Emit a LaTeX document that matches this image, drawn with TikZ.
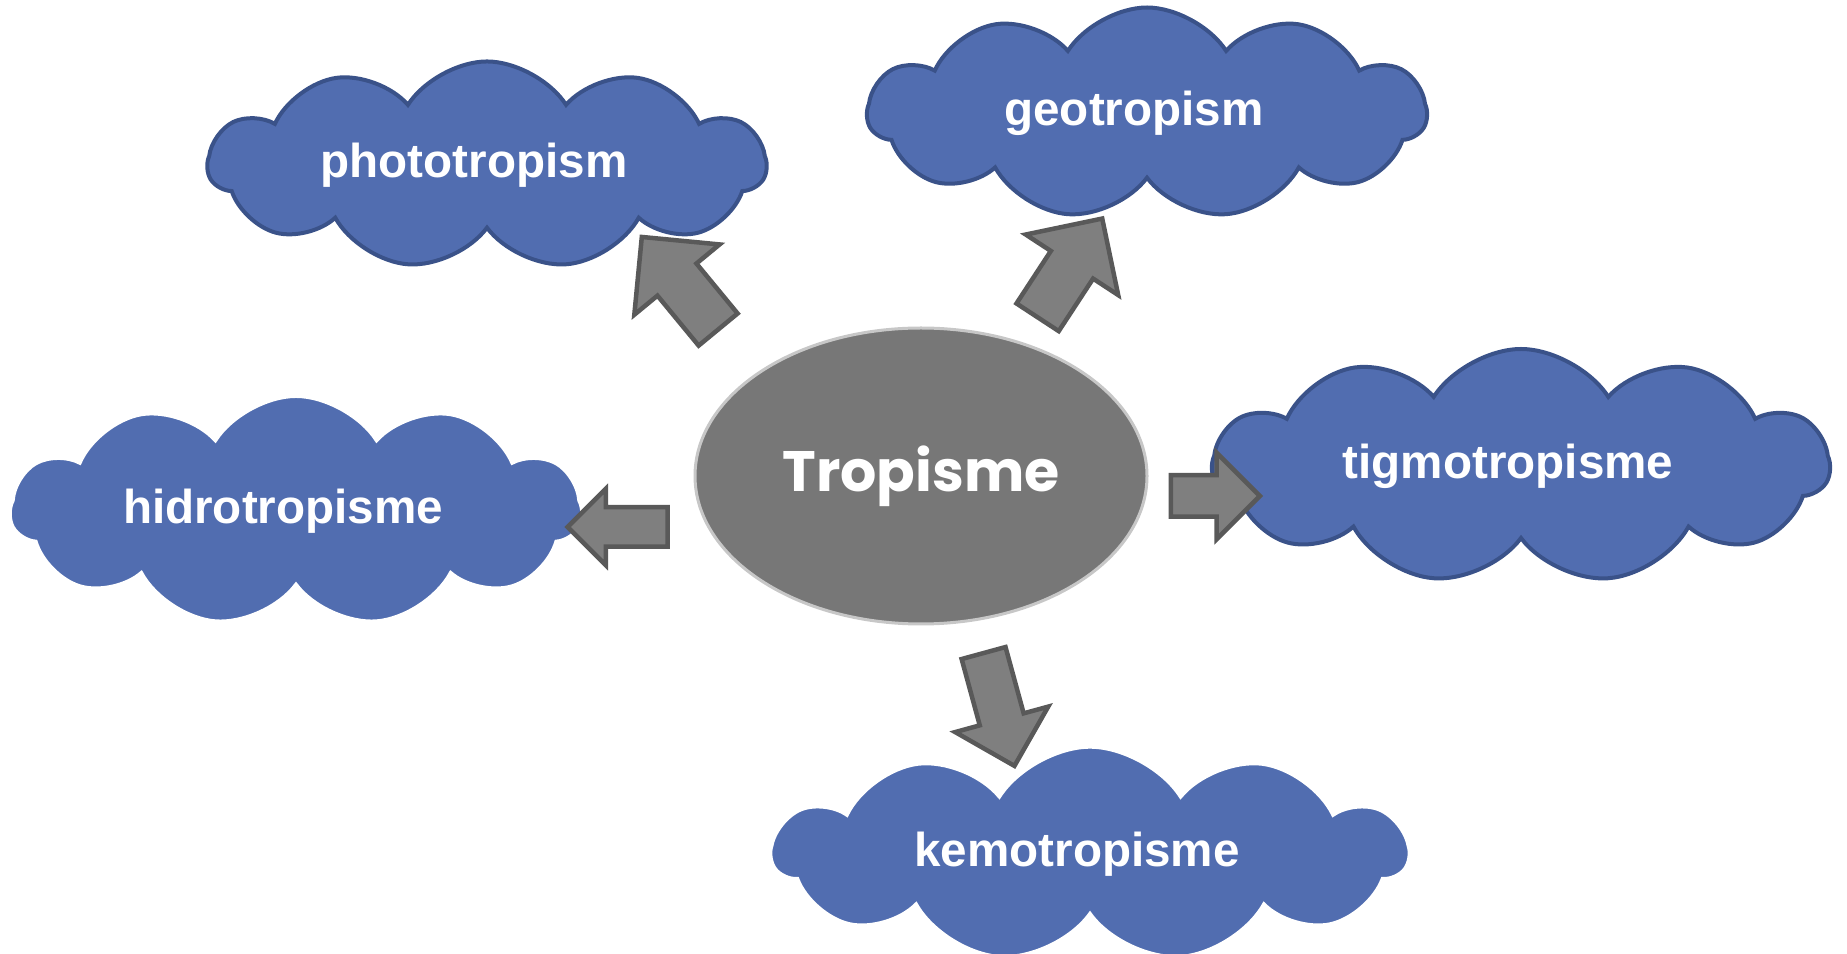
\documentclass[tikz,border=0pt]{standalone}
\usepackage{fontspec}
\setmainfont{Liberation Sans}
\newfontfamily\tropfont{Poppins}
\usetikzlibrary{shapes.symbols,shapes.arrows,shapes.geometric}

\definecolor{cloudblue}{HTML}{516DB0}
\definecolor{cloudline}{HTML}{3A5289}
\definecolor{arrowgray}{HTML}{7F7F7F}
\definecolor{arrowline}{HTML}{595959}
\definecolor{centergray}{HTML}{777777}

\begin{document}
\begin{tikzpicture}[x=1pt, y=1pt,
    cloudnode/.style={cloud, cloud puffs=11, cloud puff arc=115, fill=cloudblue,
        line width=4pt, inner sep=0pt, text=white,
        font=\fontsize{47.6}{56}\selectfont\bfseries},
    blockarrow/.style={single arrow, fill=arrowgray, draw=arrowline,
        line width=4.5pt, inner sep=0pt, line join=miter}]
    \useasboundingbox (0,0) rectangle (1847,953);

    % tengah
    \node[ellipse, fill=centergray, draw=black!22, line width=3pt,
          minimum width=452, minimum height=296, text=white,
          font=\fontsize{57}{66}\selectfont\tropfont\bfseries] (trop) at (921,477) {Tropisme};

    % awan (teks sedikit ke kiri)
    \foreach \n/\x/\y/\w/\h/\r/\c/\t in {
        foto/487/788/558/166/3.36/cloudline/phototropism,
        geo/1147/840/559/211/2.65/cloudline/geotropism,
        tigmo/1521/487/617/199/3.1/cloudline/tigmotropisme,
        hidro/296/442/572/188/3.04/white/hidrotropisme,
        kemo/1090/99/636/184/3.46/white/kemotropisme} {
        \node[cloudnode, aspect=\r, draw=\c, minimum width=\w, minimum height=\h] (\n) at (\x,\y) {\t\hspace*{26pt}};
    }

    % panah
    \foreach \i/\x/\y/\a/\l/\s/\e in {
        1/688/660/129.5/120/23/30,
        2/1063/674.5/56.8/118/23/30,
        3/1205/457/0/89/18.5/22.5,
        4/996/254.5/-74.7/117/20.5/25.5,
        5/627.5/426/180/100/17.5/18.5} {
        \node[blockarrow, rotate=\a, minimum height=\l, inner ysep=\s,
              single arrow head extend=\e] (A\i) at (\x,\y) {};
    }
\end{tikzpicture}
\end{document}
